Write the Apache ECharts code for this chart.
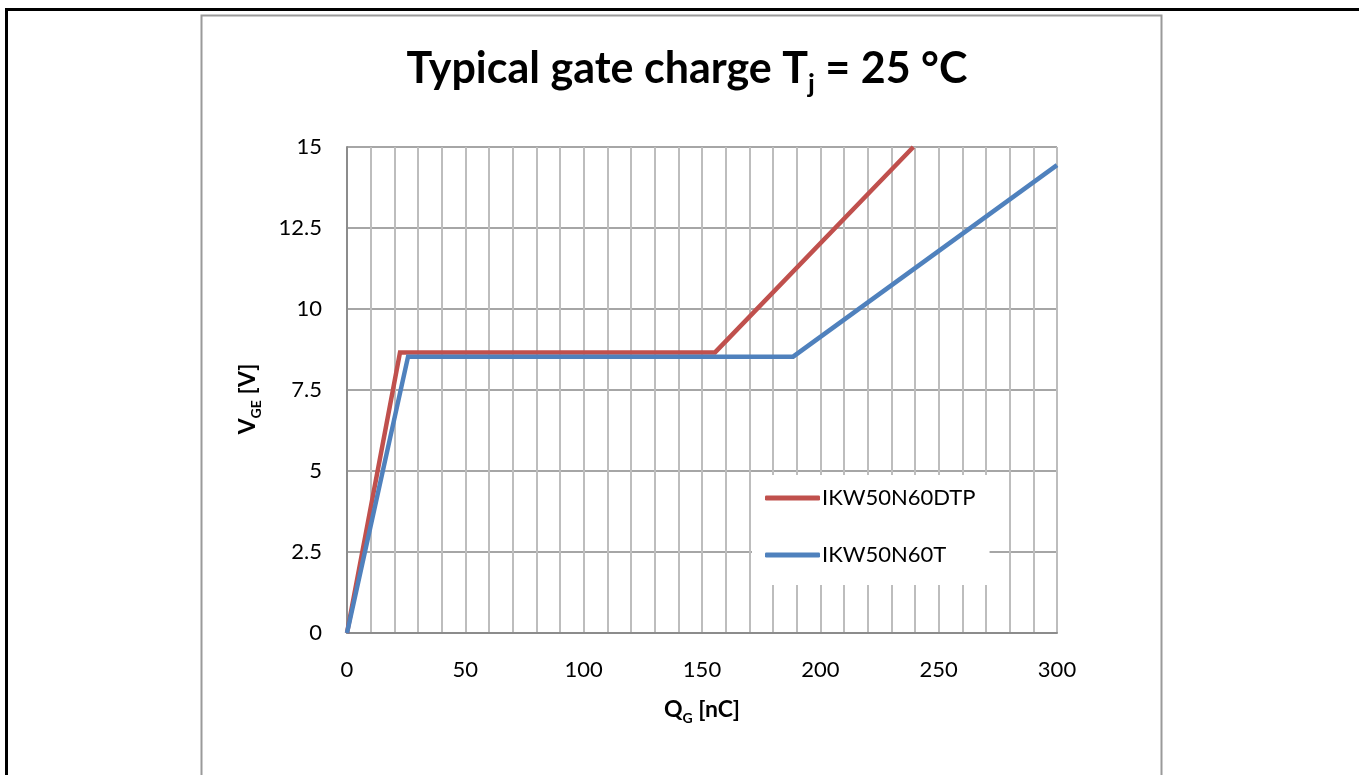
<!DOCTYPE html>
<html>
<head>
<meta charset="utf-8">
<script src="https://cdn.jsdelivr.net/npm/echarts@6/dist/echarts.min.js"></script>
<style>
html,body{margin:0;padding:0;background:#fff;}
#chart{width:1359px;height:775px;}
</style>
</head>
<body>
<div id="chart"></div>
<script>
// Data
const seriesNames = ['IKW50N60DTP', 'IKW50N60T'];
const dtpQ = [0, 22.4, 155.5, 239.3];
const dtpV = [0, 8.66, 8.66, 15];
const tQ = [0, 25.8, 188.5, 300];
const tV = [0, 8.53, 8.53, 14.44];
const xTicks = [0, 50, 100, 150, 200, 250, 300];
const yTicks = [0, 2.5, 5, 7.5, 10, 12.5, 15];

const FONT = 'Lato';
const chart = echarts.init(document.getElementById('chart'), null, {renderer: 'canvas'});

function pairs(xs, ys) { return xs.map((x, i) => [x, ys[i]]); }

const option = {
  backgroundColor: '#ffffff',
  animation: false,
  title: {
    text: '{a|Typical gate charge T}{s|j}{a| = 25 °C}',
    left: 682,
    textAlign: 'center',
    top: 35,
    textStyle: {
      rich: {
        a: {fontFamily: FONT, fontWeight: 'bold', fontSize: 43, color: '#000', lineHeight: 58},
        s: {fontFamily: FONT, fontWeight: 'bold', fontSize: 27, color: '#000', lineHeight: 26, verticalAlign: 'bottom'}
      }
    }
  },
  graphic: [
    {type: 'line', shape: {x1: 5, y1: 9.5, x2: 1359, y2: 9.5}, style: {stroke: '#000', lineWidth: 3}, silent: true},
    {type: 'line', shape: {x1: 6.5, y1: 8, x2: 6.5, y2: 775}, style: {stroke: '#000', lineWidth: 3}, silent: true},
    {type: 'rect', shape: {x: 201.5, y: 15.5, width: 960, height: 800}, style: {stroke: '#9a9a9a', lineWidth: 2, fill: 'none'}, silent: true, z: -1}
  ],
  grid: {left: 347, right: 302, top: 147, bottom: 142, containLabel: false},
  legend: {
    orient: 'vertical',
    left: 752,
    top: 475,
    backgroundColor: '#ffffff',
    padding: [11, 14, 18, 13],
    icon: 'roundRect',
    itemWidth: 55,
    itemHeight: 5,
    itemGap: 33,
    textStyle: {fontFamily: FONT, fontSize: 22, color: '#000', lineHeight: 24, padding: [0, 0, 0, -3]},
    data: seriesNames
  },
  xAxis: {
    type: 'value',
    min: 0, max: 300, interval: 50,
    name: '{a|Q}{s|G}{a| [nC]}',
    nameLocation: 'middle',
    nameGap: 62,
    nameTextStyle: {
      rich: {
        a: {fontFamily: FONT, fontWeight: 'bold', fontSize: 23, color: '#000', lineHeight: 30},
        s: {fontFamily: FONT, fontWeight: 'bold', fontSize: 14, color: '#000', lineHeight: 15, verticalAlign: 'bottom'}
      }
    },
    axisLine: {show: true, lineStyle: {color: '#8c8c8c', width: 2}},
    axisTick: {show: false},
    minorTick: {show: false, splitNumber: 5},
    axisLabel: {fontFamily: FONT, fontSize: 22, color: '#000', margin: 26,
      formatter: v => xTicks.indexOf(v) >= 0 ? String(v) : ''},
    splitLine: {show: true, lineStyle: {color: '#bdbdbd', width: 2}},
    minorSplitLine: {show: true, lineStyle: {color: '#bdbdbd', width: 2}}
  },
  yAxis: {
    type: 'value',
    min: 0, max: 15, interval: 2.5,
    name: '{a|V}{s|GE}{a| [V]}',
    nameLocation: 'middle',
    nameGap: 84,
    nameTextStyle: {
      padding: [0, 18, 0, 0],
      rich: {
        a: {fontFamily: FONT, fontWeight: 'bold', fontSize: 23, color: '#000', lineHeight: 30},
        s: {fontFamily: FONT, fontWeight: 'bold', fontSize: 14, color: '#000', lineHeight: 15, verticalAlign: 'bottom'}
      }
    },
    axisLine: {show: true, lineStyle: {color: '#8c8c8c', width: 2}},
    axisTick: {show: false},
    axisLabel: {fontFamily: FONT, fontSize: 22, color: '#000', margin: 25,
      formatter: v => yTicks.indexOf(v) >= 0 ? String(v) : ''},
    splitLine: {show: true, lineStyle: {color: '#a6a6a6', width: 2}}
  },
  series: [
    {
      name: seriesNames[0], type: 'line', symbol: 'none', data: pairs(dtpQ, dtpV),
      lineStyle: {color: '#C0504D', width: 4.5, join: 'miter', cap: 'butt'},
      itemStyle: {color: '#C0504D'}, clip: false, z: 2
    },
    {
      name: seriesNames[1], type: 'line', symbol: 'none', data: pairs(tQ, tV),
      lineStyle: {color: '#4F81BD', width: 4.5, join: 'miter', cap: 'butt'},
      itemStyle: {color: '#4F81BD'}, clip: false, z: 3
    }
  ]
};
chart.setOption(option);
</script>
</body>
</html>
